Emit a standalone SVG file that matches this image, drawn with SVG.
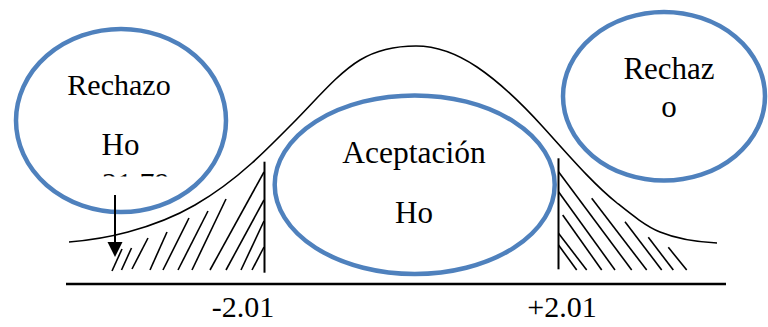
<svg xmlns="http://www.w3.org/2000/svg" width="768" height="327" viewBox="0 0 768 327">
<style>
.t{font-family:'Liberation Serif','Times New Roman',Times,serif;font-size:30px;fill:#000;text-anchor:middle}
.ell{fill:none;stroke:#4F81BD;stroke-width:4.5}
.h{stroke:#000;stroke-width:1.6;fill:none;stroke-linecap:butt}
.v{stroke:#000;stroke-width:2;fill:none}
</style>
<defs>
<clipPath id="cut"><rect x="0" y="0" width="768" height="176.5"/></clipPath>
</defs>
<rect width="768" height="327" fill="#fff"/>
<g id="curve">
<path d="M69,242 C88.67,240.43 108.33,237.31 128,232 C150.33,225.97 172.67,217.95 195,205 C214,193.98 233,180.1 252,163 C265.67,150.7 279.33,136.67 293,123 C315.33,100.67 337.67,73.4 360,60 C378.67,48.8 397.33,46 416,46 C436.33,46 456.67,53.38 477,67 C499,81.74 521,102.8 543,127 C567.67,154.13 592.33,183.27 617,203 C631.33,214.47 645.67,226.12 660,232 C679,239.79 698,242.05 717,243" fill="none" stroke="#000" stroke-width="1.6"/>
</g>
<g id="axis">
<line x1="66" y1="284" x2="726" y2="284" stroke="#000" stroke-width="2.5"/>
<line class="v" x1="264.5" y1="161.7" x2="264.5" y2="272.7"/>
<line class="v" x1="558.5" y1="158.3" x2="558.5" y2="269.3"/>
</g>
<g id="hatch-left">
<line class="h" x1="112" y1="271" x2="122" y2="249"/>
<line class="h" x1="121.5" y1="270" x2="131.5" y2="248"/>
<line class="h" x1="132" y1="269" x2="148" y2="238"/>
<line class="h" x1="150" y1="270" x2="167" y2="232"/>
<line class="h" x1="163" y1="270" x2="189" y2="218"/>
<line class="h" x1="178" y1="270" x2="208" y2="211"/>
<line class="h" x1="192" y1="270" x2="226" y2="199"/>
<line class="h" x1="210" y1="270" x2="264" y2="172"/>
<line class="h" x1="226" y1="270" x2="264" y2="200"/>
<line class="h" x1="241" y1="270" x2="264" y2="221"/>
<line class="h" x1="252" y1="270" x2="264" y2="247"/>
</g>
<g id="hatch-right">
<line class="h" x1="558.5" y1="171.7" x2="631.7" y2="270"/>
<line class="h" x1="558.5" y1="191.7" x2="615" y2="270"/>
<line class="h" x1="562.7" y1="215" x2="601.7" y2="270"/>
<line class="h" x1="558.5" y1="233.3" x2="586.7" y2="270"/>
<line class="h" x1="558.5" y1="245" x2="576.7" y2="270"/>
<line class="h" x1="591.7" y1="198.3" x2="646.7" y2="270"/>
<line class="h" x1="625" y1="221.7" x2="661.7" y2="270"/>
<line class="h" x1="648.3" y1="237.3" x2="673.3" y2="270"/>
<line class="h" x1="668.3" y1="247.3" x2="686.7" y2="270"/>
</g>
<g id="node-rechazo-left">
<ellipse class="ell" cx="121" cy="120.5" rx="105" ry="91.5"/>
<text class="t" x="119" y="95">Rechazo</text>
<text class="t" x="120.5" y="154.5" style="font-size:31px">Ho</text>
<text class="t" x="102" y="193" style="text-anchor:start" clip-path="url(#cut)">21.79</text>
</g>
<g id="node-aceptacion">
<ellipse class="ell" cx="414.7" cy="184.7" rx="140" ry="89.3"/>
<text class="t" x="414" y="162.7" style="font-size:31.5px">Aceptación</text>
<text class="t" x="414" y="223.3" style="font-size:31px">Ho</text>
</g>
<g id="node-rechazo-right">
<ellipse class="ell" cx="664" cy="96.3" rx="101" ry="84.3"/>
<text class="t" x="669" y="79" style="font-size:31px">Rechaz</text>
<text class="t" x="669" y="117.3" style="font-size:31px">o</text>
</g>
<g id="connectors">
<line x1="115" y1="195" x2="115" y2="243" stroke="#000" stroke-width="2"/>
<polygon points="107.5,242 122.5,242 115,257" fill="#000"/>
</g>
<g id="labels">
<text class="t" x="243" y="317">-2.01</text>
<text class="t" x="562" y="317">+2.01</text>
</g>
</svg>
